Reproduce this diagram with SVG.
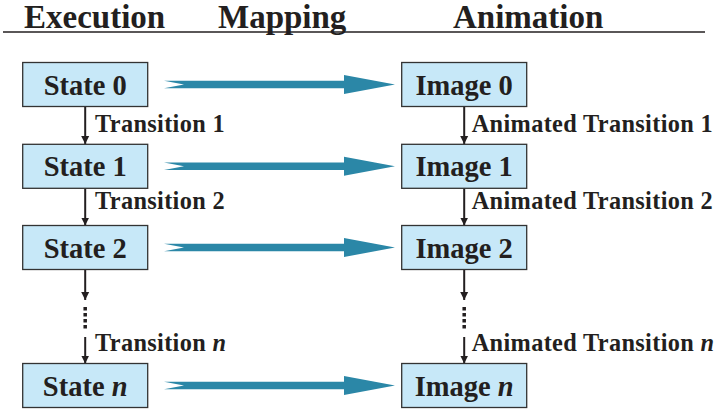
<svg xmlns="http://www.w3.org/2000/svg" xmlns:xlink="http://www.w3.org/1999/xlink" width="717" height="410" viewBox="0 0 717 410">
<style>
  .hdr { font-family: "Liberation Serif", "Times New Roman", serif; font-weight: bold; font-size: 33px; fill: #231f20; }
  .box { fill: #c7e8f8; stroke: #333333; stroke-width: 1.3; }
  .bt { font-family: "Liberation Serif", "Times New Roman", serif; font-weight: bold; font-size: 28.5px; fill: #231f20; text-anchor: middle; }
  .lbl { font-family: "Liberation Serif", "Times New Roman", serif; font-weight: bold; font-size: 24.3px; fill: #231f20; letter-spacing: 0.35px; }
  .it { font-style: italic; }
  .conn { stroke: #231f20; stroke-width: 2; fill: none; }
  .dots { stroke: #231f20; stroke-width: 3.5; stroke-dasharray: 3.5 2.5; fill: none; }
  .big { fill: #2b87a7; }
</style>
<defs>
  <marker id="ah" viewBox="0 0 10 10" refX="10" refY="5" markerWidth="4" markerHeight="4.8" orient="auto" markerUnits="strokeWidth">
    <path d="M0,0 L10,5 L0,10 Z" fill="#231f20"/>
  </marker>
  <path id="bigArrow" d="M0,-3.8 L180,-3.8 L180,-9.5 L231,0 L180,9.5 L180,3.8 L0,3.8 L20,0 Z"/>
</defs>

<g id="header">
  <text class="hdr" x="24" y="28">Execution</text>
  <text class="hdr" x="218" y="28">Mapping</text>
  <text class="hdr" x="453" y="28">Animation</text>
  <line x1="3" y1="32" x2="705" y2="32" stroke="#231f20" stroke-width="1.5"/>
</g>

<g id="connectors">
  <use xlink:href="#bigArrow" href="#bigArrow" class="big" x="164" y="84.5"/>
  <use xlink:href="#bigArrow" href="#bigArrow" class="big" x="164" y="166.3"/>
  <use xlink:href="#bigArrow" href="#bigArrow" class="big" x="164" y="247.5"/>
  <use xlink:href="#bigArrow" href="#bigArrow" class="big" x="164" y="385.5"/>

  <line class="conn" x1="85.2" y1="106.7" x2="85.2" y2="144" marker-end="url(#ah)"/>
  <line class="conn" x1="85.2" y1="188.3" x2="85.2" y2="225.5" marker-end="url(#ah)"/>
  <line class="conn" x1="85.2" y1="269.3" x2="85.2" y2="300" marker-end="url(#ah)"/>
  <line class="dots" x1="85.2" y1="307" x2="85.2" y2="329"/>
  <line class="conn" x1="85.2" y1="337" x2="85.2" y2="363.5" marker-end="url(#ah)"/>

  <line class="conn" x1="464.2" y1="106.7" x2="464.2" y2="144" marker-end="url(#ah)"/>
  <line class="conn" x1="464.2" y1="188.3" x2="464.2" y2="225.5" marker-end="url(#ah)"/>
  <line class="conn" x1="464.2" y1="269.3" x2="464.2" y2="300" marker-end="url(#ah)"/>
  <line class="dots" x1="464.2" y1="307" x2="464.2" y2="329"/>
  <line class="conn" x1="464.2" y1="337" x2="464.2" y2="363.5" marker-end="url(#ah)"/>

  <text class="lbl" x="95" y="132">Transition 1</text>
  <text class="lbl" x="95" y="209">Transition 2</text>
  <text class="lbl" x="95" y="351">Transition <tspan class="it">n</tspan></text>
  <text class="lbl" x="471.7" y="132">Animated Transition 1</text>
  <text class="lbl" x="471.7" y="209">Animated Transition 2</text>
  <text class="lbl" x="471.7" y="351">Animated Transition <tspan class="it">n</tspan></text>
</g>

<g id="state0"><rect class="box" x="22.7" y="62.5" width="125" height="44"/><text class="bt" x="85.2" y="94.5">State 0</text></g>
<g id="state1"><rect class="box" x="22.7" y="144.3" width="125" height="44"/><text class="bt" x="85.2" y="176.3">State 1</text></g>
<g id="state2"><rect class="box" x="22.7" y="225.5" width="125" height="44"/><text class="bt" x="85.2" y="257.5">State 2</text></g>
<g id="stateN"><rect class="box" x="22.7" y="363.5" width="125" height="44"/><text class="bt" x="85.2" y="395.5">State <tspan class="it">n</tspan></text></g>

<g id="image0"><rect class="box" x="401.7" y="62.5" width="125" height="44"/><text class="bt" x="464.2" y="94.5">Image 0</text></g>
<g id="image1"><rect class="box" x="401.7" y="144.3" width="125" height="44"/><text class="bt" x="464.2" y="176.3">Image 1</text></g>
<g id="image2"><rect class="box" x="401.7" y="225.5" width="125" height="44"/><text class="bt" x="464.2" y="257.5">Image 2</text></g>
<g id="imageN"><rect class="box" x="401.7" y="363.5" width="125" height="44"/><text class="bt" x="464.2" y="395.5">Image <tspan class="it">n</tspan></text></g>
</svg>
